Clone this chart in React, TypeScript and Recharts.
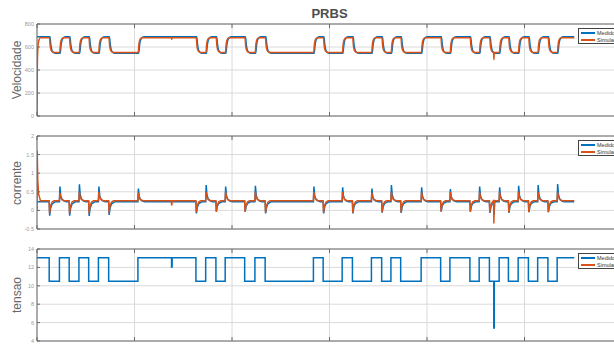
import { LineChart, Line, XAxis, YAxis, CartesianGrid } from "recharts";

// instantes de comutacao do PRBS (queda nos indices pares, subida nos impares)
const switchTimes = [
  12.5, 23, 33, 43, 53, 63, 73.5, 103.5, 163, 173, 183.5, 193, 213, 223.5, 234,
  283.5, 293.5, 313, 323.5, 343, 353.5, 363, 373, 394, 414, 423.5, 444, 453.5,
  464, 474, 483.5, 493.5, 504, 513.5, 524, 533.5,
];
const endTime = 551;
const xTicks = [0, 100, 200, 300, 400, 500, 600];

// velocidade
const speedTicks = [0, 200, 400, 600, 800];
const speedMeasuredHigh = 690;
const speedMeasuredLow = 545;
const speedSimHigh = 681;
const speedSimLow = 553;
const speedMeasuredStart = [[0, 690]];
const speedSimStart = [[0, 0], [0.3, 420], [0.9, 590], [1.8, 655], [3.5, 681]];
const speedMeasuredEdge = [[0.8, 0], [1.6, 0.45], [2.6, 0.78], [4, 0.93], [6.5, 1]];
const speedSimEdge = [[0.3, 0], [1, 0.55], [1.8, 0.82], [3, 0.95], [5, 1]];
const speedSimGlitch = [[137.7, 681], [138.1, 668], [138.9, 681], [468.3, 553], [468.6, 490], [469.3, 553]];

// corrente
const currentTicks = [-0.5, 0, 0.5, 1, 1.5, 2];
const currentMeasuredBase = 0.23;
const currentSimBase = 0.26;
const currentMeasuredPeaks = [
  -0.14, 0.64, -0.14, 0.7, -0.15, 0.64, -0.12, 0.59, -0.08, 0.68, -0.02, 0.64,
  -0.03, 0.66, -0.08, 0.64, -0.08, 0.62, -0.08, 0.59, -0.06, 0.68, -0.07, 0.62,
  -0.03, 0.575, -0.03, 0.64, -0.07, 0.62, -0.07, 0.66, -0.05, 0.68, -0.05, 0.71,
];
const currentSimPeaks = [
  -0.08, 0.47, -0.08, 0.5, -0.08, 0.5, -0.06, 0.48, -0.05, 0.5, -0.04, 0.5,
  -0.04, 0.5, -0.06, 0.5, -0.06, 0.5, -0.06, 0.48, -0.05, 0.5, -0.05, 0.5,
  -0.03, 0.5, -0.04, 0.5, -0.05, 0.5, -0.05, 0.5, -0.04, 0.5, -0.04, 0.5,
];
const currentMeasuredStart = [[0, 0.23]];
const currentSimStart = [[0, 0], [0.15, 1.6], [0.8, 0.8], [1.6, 0.45], [3.5, 0.26]];
const currentMeasuredRise = [[0, 0], [0.5, 1], [1.3, 0.42], [2.5, 0.18], [4.5, 0.06], [7, 0]];
const currentMeasuredFall = [[0, 0], [0.5, 1], [1.5, 0.45], [3, 0.15], [6, 0]];
const currentSimRise = [[0, 0], [0.4, 1], [1.2, 0.45], [2.5, 0.15], [5, 0]];
const currentSimFall = [[0, 0], [0.4, 1], [1.4, 0.4], [3, 0.1], [5, 0]];
const currentMeasuredGlitch = [[468.3, 0.23], [468.7, -0.12], [469.5, 0.23]];
const currentSimGlitch = [[137.8, 0.26], [138.1, 0.13], [138.8, 0.26], [468.3, 0.26], [468.6, -0.35], [469.3, 0.26]];

// tensao
const voltageTicks = [4, 6, 8, 10, 12, 14];
const voltageHigh = 13.05;
const voltageLow = 10.5;
const voltageGlitch = [[138, 12.05], [138.6, 13.05], [468.5, 5.4], [469, 10.5]];

const BLUE = "#0072BD";
const ORANGE = "#D95319";
const FRAME = "#6a6a6a";
const GRID = "#dadada";

type Pt = { t: number; v: number };
const toPoints = (pairs: number[][]): Pt[] => pairs.map(([t, v]) => ({ t, v }));
const byTime = (a: Pt, b: Pt) => a.t - b.t;
const blank = () => "";

function stepTable(start: number[][], hi: number, lo: number, edge: number[][], extra: number[][] = []) {
  const pts = toPoints(start);
  let prev = pts[pts.length - 1].v;
  switchTimes.forEach((t0, i) => {
    const target = i % 2 === 0 ? lo : hi;
    edge.forEach(([dt, f]) => pts.push({ t: t0 + dt, v: prev + (target - prev) * f }));
    prev = target;
  });
  pts.push({ t: endTime, v: prev });
  return [...pts, ...toPoints(extra)].sort(byTime);
}

function spikeTable(
  start: number[][],
  base: number,
  peaks: number[],
  rise: number[][],
  fall: number[][],
  extra: number[][] = []
) {
  const pts = toPoints(start);
  switchTimes.forEach((t0, i) => {
    const shape = i % 2 === 0 ? fall : rise;
    shape.forEach(([dt, f]) => pts.push({ t: t0 + dt, v: base + (peaks[i] - base) * f }));
  });
  pts.push({ t: endTime, v: base });
  return [...pts, ...toPoints(extra)].sort(byTime);
}

const speedMeasured = stepTable(speedMeasuredStart, speedMeasuredHigh, speedMeasuredLow, speedMeasuredEdge);
const speedSim = stepTable(speedSimStart, speedSimHigh, speedSimLow, speedSimEdge, speedSimGlitch);
const currentMeasured = spikeTable(
  currentMeasuredStart, currentMeasuredBase, currentMeasuredPeaks,
  currentMeasuredRise, currentMeasuredFall, currentMeasuredGlitch
);
const currentSim = spikeTable(
  currentSimStart, currentSimBase, currentSimPeaks, currentSimRise, currentSimFall, currentSimGlitch
);
const voltage = [
  { t: 0, v: voltageHigh },
  ...switchTimes.map((t, i) => ({ t, v: i % 2 === 0 ? voltageLow : voltageHigh })),
  { t: endTime, v: voltageHigh },
  ...toPoints(voltageGlitch),
].sort(byTime);

type Series = { data: Pt[]; color: string; type: "monotone" | "linear" | "stepAfter" };

function Panel({
  top,
  plotH,
  domain,
  ticks,
  label,
  series,
}: {
  top: number;
  plotH: number;
  domain: [number, number];
  ticks: number[];
  label: string;
  series: Series[];
}) {
  return (
    <>
      <div style={{ position: "absolute", left: 0, top: top - 5 }}>
        <LineChart width={640} height={plotH + 10} margin={{ top: 5, right: 18, bottom: 5, left: 0 }}>
          <CartesianGrid stroke={GRID} strokeWidth={1} />
          <XAxis
            type="number"
            dataKey="t"
            domain={[0, 600]}
            ticks={xTicks}
            interval={0}
            allowDataOverflow
            mirror
            height={1}
            tickSize={4}
            tickFormatter={blank}
            axisLine={{ stroke: FRAME }}
            tickLine={{ stroke: FRAME }}
          />
          <XAxis
            xAxisId="top"
            orientation="top"
            type="number"
            dataKey="t"
            domain={[0, 600]}
            ticks={xTicks}
            interval={0}
            allowDataOverflow
            mirror
            height={1}
            tickSize={4}
            tickFormatter={blank}
            axisLine={{ stroke: FRAME }}
            tickLine={{ stroke: FRAME }}
          />
          <YAxis
            type="number"
            domain={domain}
            ticks={ticks}
            allowDataOverflow
            interval={0}
            width={37}
            tickSize={2}
            tickMargin={1}
            tickLine={false}
            axisLine={{ stroke: FRAME }}
            tick={{ fontSize: 5.5, fill: "#999" }}
          />
          <YAxis
            yAxisId="marks"
            type="number"
            domain={domain}
            ticks={ticks}
            allowDataOverflow
            interval={0}
            mirror
            width={4}
            tickSize={3}
            tickFormatter={blank}
            axisLine={false}
            tickLine={{ stroke: FRAME }}
          />
          {series.map((s, i) => (
            <Line
              key={i}
              data={s.data}
              dataKey="v"
              type={s.type}
              stroke={s.color}
              strokeWidth={1.5}
              dot={false}
              isAnimationActive={false}
            />
          ))}
        </LineChart>
      </div>
      <div
        style={{
          position: "absolute",
          left: 17,
          top: top + plotH / 2,
          transform: "translate(-50%, -50%) rotate(-90deg)",
          fontSize: 12,
          color: "#666",
          whiteSpace: "nowrap",
          lineHeight: "12px",
        }}
      >
        {label}
      </div>
      <div
        style={{
          position: "absolute",
          left: 578,
          top: top + 4,
          width: 50,
          height: 14,
          border: "1px solid #444",
          background: "#fff",
          fontSize: 5.5,
          color: "#333",
          lineHeight: "6px",
        }}
      >
        {[
          { name: "Medido", color: BLUE },
          { name: "Simulado", color: ORANGE },
        ].map((item) => (
          <div key={item.name} style={{ display: "flex", alignItems: "center", height: 6, marginTop: 1 }}>
            <span style={{ display: "inline-block", width: 14, height: 1.2, background: item.color, margin: "0 2px 0 2px" }} />
            <span>{item.name}</span>
          </div>
        ))}
      </div>
    </>
  );
}

export default function App() {
  return (
    <div
      style={{
        position: "absolute",
        left: 0,
        top: 0,
        width: 614,
        height: 345,
        overflow: "hidden",
        background: "#fff",
        fontFamily: '"Liberation Sans", Arial, sans-serif',
      }}
    >
      <div
        style={{
          position: "absolute",
          left: 0,
          top: 7,
          width: 659,
          textAlign: "center",
          fontSize: 13,
          lineHeight: "13px",
          fontWeight: "bold",
          color: "#4d4d4d",
        }}
      >
        PRBS
      </div>
      <Panel
        top={24}
        plotH={92}
        domain={[0, 800]}
        ticks={speedTicks}
        label="Velocidade"
        series={[
          { data: speedMeasured, color: BLUE, type: "monotone" },
          { data: speedSim, color: ORANGE, type: "monotone" },
        ]}
      />
      <Panel
        top={136}
        plotH={93}
        domain={[-0.5, 2]}
        ticks={currentTicks}
        label="corrente"
        series={[
          { data: currentMeasured, color: BLUE, type: "linear" },
          { data: currentSim, color: ORANGE, type: "linear" },
        ]}
      />
      <Panel
        top={249}
        plotH={92}
        domain={[4, 14]}
        ticks={voltageTicks}
        label="tensao"
        series={[{ data: voltage, color: BLUE, type: "stepAfter" }]}
      />
    </div>
  );
}
